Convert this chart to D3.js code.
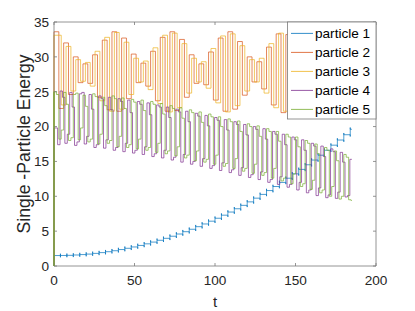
<!DOCTYPE html>
<html>
<head>
<meta charset="utf-8">
<script src="https://cdn.jsdelivr.net/npm/d3@7"></script>
<style>
  body { margin: 0; background: #fff; }
  svg { display: block; font-family: "Liberation Sans", Arial, sans-serif; }
</style>
</head>
<body>
<div id="chart"></div>
<script>
// tick labels
var xTicks = [0, 50, 100, 150, 200];
var yTicks = [0, 5, 10, 15, 20, 25, 30, 35];
var seriesNames = ["particle 1", "particle 2", "particle 3", "particle 4", "particle 5"];

// every series starts from zero energy at t = 0
var startEnergy = 0;
var tEnd = 185;

// particle 1: sampled every 4 time units
var p1Step = 4, p1Offset = 0;
var p1Spike = 0.25;
var particle1 = [1.50, 1.51, 1.53, 1.58, 1.64, 1.71, 1.81, 1.92, 2.05, 2.19, 2.36, 2.54,
  2.73, 2.95, 3.18, 3.43, 3.69, 3.97, 4.27, 4.59, 4.92, 5.27, 5.64, 6.03, 6.43, 6.85,
  7.29, 7.74, 8.21, 8.70, 9.20, 9.73, 10.27, 10.82, 11.40, 11.99, 12.59, 13.22, 13.86,
  14.52, 15.20, 15.89, 16.60, 17.33, 18.07, 18.83, 19.61];

// particles 2 and 3: sampled every 3 time units
var p2Step = 3, p2Offset = 0;
var particle2 = [33.6, 22.6, 32.0, 24.6, 30.0, 26.3, 29.0, 26.2, 30.3, 24.2, 32.4, 22.4,
  33.6, 22.2, 32.7, 24.0, 30.4, 26.3, 29.1, 25.8, 30.8, 23.7, 32.8, 22.2, 33.6, 22.3,
  32.5, 24.2, 30.3, 26.2, 29.0, 26.0, 30.7, 23.8, 32.7, 22.2, 33.6, 22.5, 32.2, 24.5,
  30.0, 26.4, 29.3, 25.4, 31.4, 23.1, 33.3, 22.0, 33.2, 23.3, 31.2, 25.5, 29.2, 26.4,
  30.2, 24.3, 32.4, 22.4, 33.6, 22.3, 32.6, 23.8];

var p3Step = 3, p3Offset = 1.5;
var particle3 = [33.1, 23.1, 31.5, 25.1, 29.6, 26.5, 29.2, 25.8, 30.8, 23.7, 32.8, 22.2,
  33.5, 22.5, 32.1, 24.6, 29.8, 26.4, 29.4, 25.3, 31.3, 23.3, 33.1, 22.1, 33.4, 22.7,
  31.9, 24.8, 29.8, 26.4, 29.3, 25.5, 31.2, 23.4, 33.0, 22.1, 33.3, 23.0, 31.6, 25.1,
  29.6, 26.4, 29.8, 24.8, 31.9, 22.7, 33.4, 22.2, 32.8, 23.8, 30.6, 26.0, 29.1, 25.9,
  30.8, 23.8, 32.8, 22.2, 33.5, 22.6, 32.2];

// particles 4 and 5: sampled every 1.5 time units
var p4Step = 1.5, p4Offset = 0.75;
var particle4 = [
  19.8, 17.4, 25.1, 24.2,  17.6, 18.9, 24.9, 22.8,  17.3, 17.8, 24.7, 24.9,
  17.5, 18.6, 24.6, 22.5,  17.0, 17.4, 24.4, 24.0,  16.9, 18.1, 24.2, 22.4,
  16.6, 17.0, 24.0, 23.6,  16.4, 17.6, 23.8, 22.0,  16.2, 16.6, 23.6, 23.2,
  16.0, 17.1, 23.4, 21.7,  15.7, 16.1, 23.1, 22.8,  15.5, 16.6, 22.8, 21.3,
  15.2, 15.6, 22.5, 22.1,  14.9, 16.0, 22.2, 20.7,  14.6, 15.0, 21.9, 21.5,
  14.3, 15.4, 21.6, 20.1,  14.0, 14.4, 21.3, 20.9,  13.7, 14.8, 21.0, 19.5,
  13.4, 13.8, 20.7, 20.3,  13.0, 14.1, 20.3, 18.8,  12.7, 13.1, 20.0, 19.6,
  12.4, 13.5, 19.7, 18.2,  12.0, 12.4, 19.3, 18.9,  11.7, 12.8, 18.9, 17.4,
  11.3, 11.7, 18.5, 18.1,  10.9, 12.0, 18.1, 16.6,  10.5, 10.9, 17.6, 17.2,
  10.1, 11.2, 17.2, 15.7,   9.8, 10.2, 16.8, 16.4,   9.7, 10.6, 16.3, 14.9,
   9.9, 10.1, 15.3, 15.0];

var p5Step = 1.5, p5Offset = 0;
var particle5 = [
  25.0, 24.6, 18.2, 19.5,  24.9, 23.2, 18.0, 18.4,  24.6, 24.8, 18.1, 19.8,
  24.5, 22.9, 17.8, 18.2,  24.7, 24.3, 17.5, 18.9,  24.2, 23.0, 17.6, 18.0,
  24.4, 24.0, 17.1, 18.6,  24.1, 22.6, 17.0, 17.4,  23.9, 23.5, 16.8, 18.2,
  23.8, 22.3, 16.6, 17.0,  23.6, 23.2, 16.3, 17.6,  23.3, 21.8, 16.1, 16.5,
  23.0, 22.6, 15.8, 17.1,  22.7, 21.2, 15.5, 15.9,  22.4, 22.0, 15.1, 16.5,
  22.1, 20.6, 14.9, 15.3,  21.8, 21.4, 14.6, 15.9,  21.4, 20.0, 14.3, 14.7,
  21.1, 20.7, 14.0, 15.4,  20.8, 19.3, 13.6, 14.0,  20.4, 20.0, 13.3, 14.6,
  20.1, 18.6, 13.0, 13.4,  19.7, 19.3, 12.6, 14.0,  19.3, 17.9, 12.2, 12.6,
  18.9, 18.5, 11.8, 13.2,  18.5, 17.1, 11.4, 11.8,  18.0, 17.6, 11.0, 12.3,
  17.5, 16.1, 10.5, 10.9,  17.0, 16.6, 10.0, 11.4,  16.5, 15.1,  9.6, 10.0,
  16.0, 15.6,  9.5,  9.4];

var colors = ["#0072BD", "#D95319", "#EDB120", "#7E2F8E", "#77AC30"];

var width = 415, height = 311;
var margin = { top: 22, right: 39, bottom: 45, left: 54 };
var w = width - margin.left - margin.right;
var h = height - margin.top - margin.bottom;

var svg = d3.select("#chart").append("svg")
    .attr("width", width)
    .attr("height", height);

var x = d3.scaleLinear().domain([0, 200]).range([margin.left, margin.left + w]);
var y = d3.scaleLinear().domain([0, 35]).range([margin.top + h, margin.top]);

function buildPoints(values, step, offset, spike) {
    var pts = [{ t: 0, v: startEnergy }, { t: 0, v: values[0] }];
    for (var i = 1; i < values.length; i++) {
        var t = offset + i * step;
        if (t >= tEnd) break;
        if (spike) {
            pts.push({ t: t, v: values[i - 1] - spike });
            pts.push({ t: t, v: values[i] + spike });
        }
        pts.push({ t: t, v: values[i] });
    }
    pts.push({ t: tEnd, v: pts[pts.length - 1].v });
    return pts;
}

var series = [
    buildPoints(particle1, p1Step, p1Offset, p1Spike),
    buildPoints(particle2, p2Step, p2Offset, 0),
    buildPoints(particle3, p3Step, p3Offset, 0),
    buildPoints(particle4, p4Step, p4Offset, 0),
    buildPoints(particle5, p5Step, p5Offset, 0)
];

var line = d3.line()
    .curve(d3.curveStepAfter)
    .x(function(d) { return x(d.t); })
    .y(function(d) { return y(d.v); });

svg.append("g").selectAll("path")
    .data(series)
    .enter().append("path")
    .attr("d", line)
    .attr("fill", "none")
    .attr("stroke", function(d, i) { return colors[i]; })
    .attr("stroke-width", 0.7);

// axes, MATLAB style: box on, ticks pointing in
var axisColor = "#262626";
var boxColor = "#7a7a7a";
var tickLen = 3;
var xAxis = svg.append("g");
xAxis.selectAll("text").data(xTicks).enter().append("text")
    .attr("x", function(d) { return x(d); })
    .attr("y", margin.top + h + 19)
    .attr("text-anchor", "middle")
    .attr("font-size", 13.6)
    .attr("fill", axisColor)
    .text(function(d) { return d; });

var yAxis = svg.append("g");
yAxis.selectAll("text").data(yTicks).enter().append("text")
    .attr("x", margin.left - 5)
    .attr("y", function(d) { return y(d) + 4.8; })
    .attr("text-anchor", "end")
    .attr("font-size", 13.6)
    .attr("fill", axisColor)
    .text(function(d) { return d; });

var ticks = svg.append("g").attr("stroke", boxColor).attr("stroke-width", 0.8);
xTicks.forEach(function(d) {
    ticks.append("line").attr("x1", x(d)).attr("x2", x(d))
        .attr("y1", y(0)).attr("y2", y(0) - tickLen);
    ticks.append("line").attr("x1", x(d)).attr("x2", x(d))
        .attr("y1", y(35)).attr("y2", y(35) + tickLen);
});
yTicks.forEach(function(d) {
    ticks.append("line").attr("x1", x(0)).attr("x2", x(0) + tickLen)
        .attr("y1", y(d)).attr("y2", y(d));
    ticks.append("line").attr("x1", x(200)).attr("x2", x(200) - tickLen)
        .attr("y1", y(d)).attr("y2", y(d));
});

// box
svg.append("path")
    .attr("d", "M" + x(0) + "," + y(35) + "H" + x(200) + "V" + y(0) + "H" + x(0) + "Z")
    .attr("fill", "none").attr("stroke", boxColor).attr("stroke-width", 0.8);
// start of particle 5 sits over the left axis, as in the picture
svg.append("path")
    .attr("d", line(series[4].slice(0, 2)))
    .attr("stroke", colors[4]).attr("stroke-width", 1);

// axis labels
svg.append("text")
    .attr("x", x(100))
    .attr("y", 307)
    .attr("text-anchor", "middle")
    .attr("font-size", 15)
    .attr("fill", axisColor)
    .text("t");

svg.append("text")
    .attr("transform", "translate(29.5," + (margin.top + h / 2) + ") rotate(-90)")
    .attr("text-anchor", "middle")
    .attr("font-size", 17.6)
    .attr("fill", axisColor)
    .text("Single -Particle Energy");

// legend
var legend = svg.append("g");
legend.append("rect")
    .attr("x", 287.5).attr("y", y(35))
    .attr("width", x(200) - 287.5).attr("height", 97)
    .attr("fill", "#fff").attr("stroke", boxColor).attr("stroke-width", 0.8);

var rows = legend.selectAll(".row").data(seriesNames).enter().append("g")
    .attr("class", "row")
    .attr("transform", function(d, i) { return "translate(0," + (33.4 + i * 19) + ")"; });
rows.append("line")
    .attr("x1", 291).attr("x2", 313)
    .attr("stroke", function(d, i) { return colors[i]; })
    .attr("stroke-width", 0.8);
rows.append("text")
    .attr("x", 315).attr("y", 4.8)
    .attr("font-size", 13.6)
    .attr("fill", "#000")
    .text(function(d) { return d; });
</script>
</body>
</html>
